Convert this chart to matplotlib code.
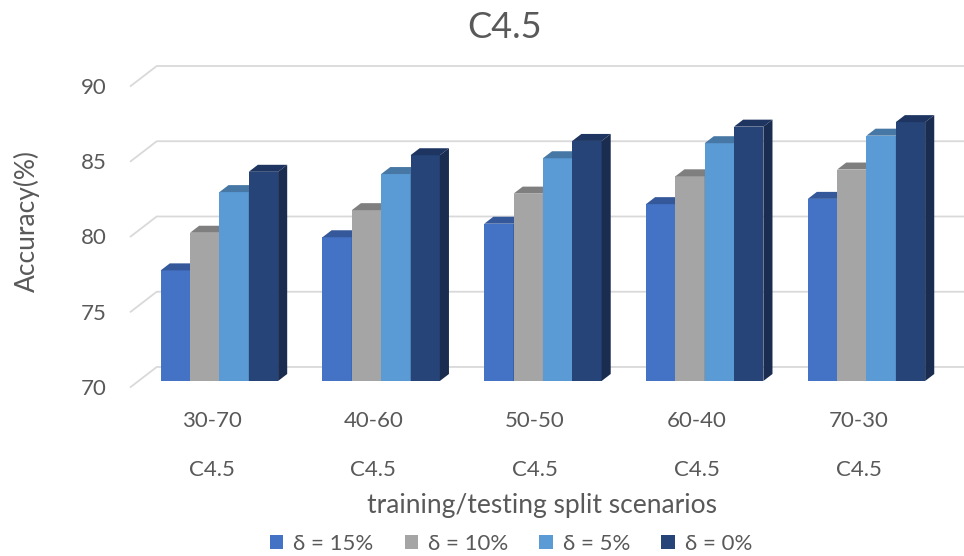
import matplotlib.pyplot as plt
from matplotlib.patches import Rectangle, Polygon, Patch

plt.rcParams['font.family'] = ['Lato', 'DejaVu Sans']

# Datos
scenarios = ["30-70", "40-60", "50-50", "60-40", "70-30"]
model = "C4.5"
series = ["δ = 15%", "δ = 10%", "δ = 5%", "δ = 0%"]
acc_15 = [77.35, 79.55, 80.45, 81.75, 82.1]
acc_10 = [79.85, 81.35, 82.45, 83.6, 84.05]
acc_5 = [82.55, 83.75, 84.8, 85.8, 86.3]
acc_0 = [83.9, 85.0, 85.95, 86.9, 87.2]
yticks = [70, 75, 80, 85, 90]

valores = [acc_15, acc_10, acc_5, acc_0]
c_front = ["#4472C4", "#A5A5A5", "#5B9BD5", "#264478"]
c_top = ["#34589A", "#7F7F7F", "#4777A4", "#1D3560"]
c_side = ["#2C4A82", "#6E6E6E", "#3E6890", "#1A2C4F"]
txt = "#595959"
grid = "#D9D9D9"

# Profundidad del "3D"
dxD = 0.1608   # en unidades de categoria
dyD = 1.329    # en unidades de valor
f0 = 0.30      # cara frontal de la barra
fd = 0.35      # fondo de la barra
w = 0.1814     # ancho de barra
base = 70

fig = plt.figure(figsize=(9.64, 5.56), dpi=100)
ax = fig.add_axes([0.1356, 0.304, 0.866, 0.5773])
ax.set_xlim(-0.5, len(scenarios) - 0.5 + dxD)
ax.set_ylim(base, yticks[-1] + dyD)

# Rejilla: pared lateral + pared del fondo
for v in yticks:
    ax.plot([-0.5, -0.5 + dxD, len(scenarios) - 0.5 + dxD],
            [v, v + dyD, v + dyD],
            color=grid, lw=1.3, clip_on=False, zorder=1)

# Barras
for i in range(len(scenarios)):
    x0 = i - 2 * w + f0 * dxD
    for j, vals in enumerate(valores):
        v = vals[i]
        xl = x0 + j * w
        yb = base + f0 * dyD
        yt = v + f0 * dyD
        ddx = fd * dxD
        ddy = fd * dyD
        ax.add_patch(Rectangle((xl, yb), w, v - base,
                               facecolor=c_front[j], edgecolor="none",
                               clip_on=False, zorder=3))
        ax.add_patch(Polygon([(xl, yt), (xl + w, yt),
                              (xl + w + ddx, yt + ddy), (xl + ddx, yt + ddy)],
                             closed=True, facecolor=c_top[j],
                             edgecolor="none", clip_on=False, zorder=3))
        ax.add_patch(Polygon([(xl + w, yb), (xl + w, yt),
                              (xl + w + ddx, yt + ddy), (xl + w + ddx, yb + ddy)],
                             closed=True, facecolor=c_side[j],
                             edgecolor="none", clip_on=False, zorder=3))

for s in ax.spines.values():
    s.set_visible(False)
ax.set_yticks(yticks)
ax.set_yticklabels([str(t) for t in yticks])
ax.set_xticks(range(len(scenarios)))
ax.set_xticklabels(scenarios)
ax.tick_params(axis="y", length=0, pad=17, labelsize=16, labelcolor=txt)
ax.tick_params(axis="x", length=0, pad=17, labelsize=16, labelcolor=txt)

for i in range(len(scenarios)):
    ax.annotate(model, xy=(i, 0), xycoords=("data", "axes fraction"),
                xytext=(0, -60), textcoords="offset points",
                ha="center", va="center", fontsize=16, color=txt)

fig.text(542 / 964, 1 - 505 / 556, "training/testing split scenarios",
         ha="center", va="center", fontsize=19, color=txt)
fig.text(27 / 964, 1 - 221 / 556, "Accuracy(%)", rotation=90,
         ha="center", va="center", fontsize=19, color=txt)
fig.text(505 / 964, 1 - 27 / 556, "C4.5",
         ha="center", va="center", fontsize=26, color=txt)

handles = [Patch(facecolor=c, edgecolor="none") for c in c_front]
fig.legend(handles, series, loc="center", ncol=4, frameon=False,
           bbox_to_anchor=(511 / 964, 1 - 544 / 556), fontsize=16,
           handlelength=0.6, handleheight=0.6, handletextpad=0.45,
           columnspacing=1.4, labelcolor=txt)

plt.savefig("out.png", dpi=100)
